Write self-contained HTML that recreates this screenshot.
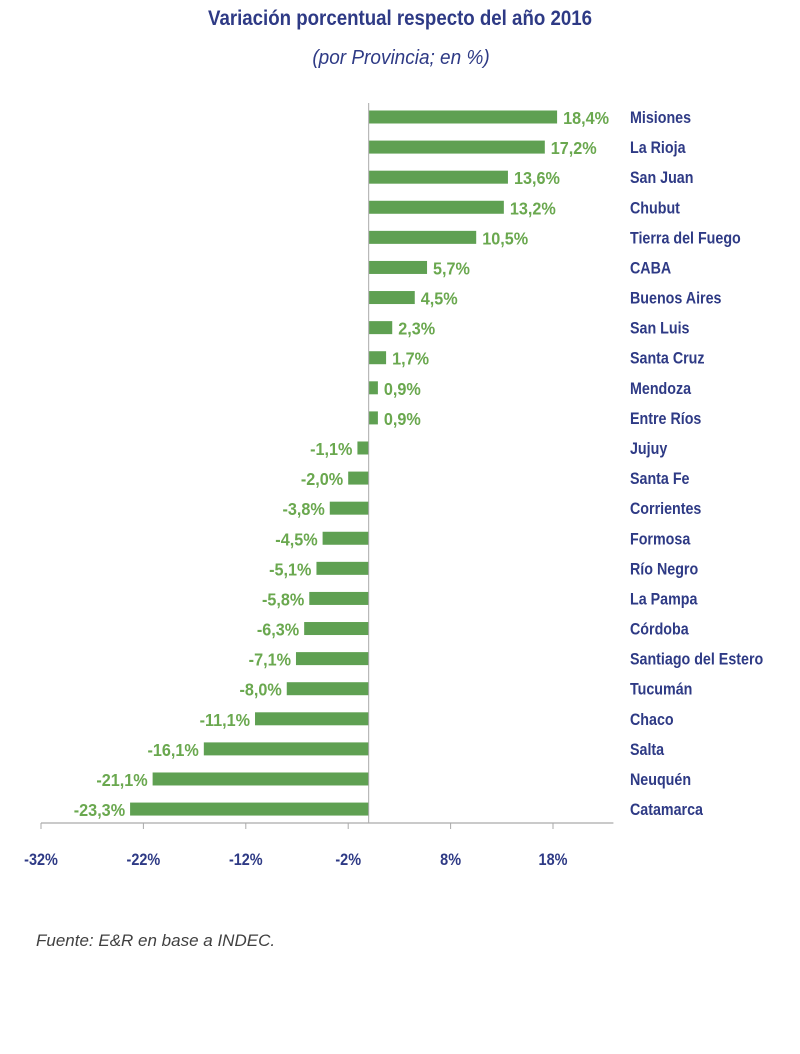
<!DOCTYPE html>
<html><head><meta charset="utf-8"><style>
body{margin:0;background:#fff;width:800px;height:1049px;overflow:hidden;font-family:"Liberation Sans",sans-serif}
</style></head><body>
<svg width="800" height="1049" font-family="Liberation Sans, sans-serif">
<text transform="translate(400,25) scale(0.89,1)" text-anchor="middle" font-size="21" font-weight="bold" fill="#2e3a85">Variación porcentual respecto del  año 2016</text>
<text transform="translate(401,64) scale(0.95,1)" text-anchor="middle" font-size="20" font-style="italic" fill="#2e3a85">(por Provincia; en %)</text>
<g id="plot"></g>
<text x="36" y="946" font-size="17" font-style="italic" fill="#404040">Fuente: E&amp;R en base a INDEC.</text>
</svg>
<script>
const provinces=["Misiones","La Rioja","San Juan","Chubut","Tierra del Fuego","CABA","Buenos Aires","San Luis","Santa Cruz","Mendoza","Entre Ríos","Jujuy","Santa Fe","Corrientes","Formosa","Río Negro","La Pampa","Córdoba","Santiago del Estero","Tucumán","Chaco","Salta","Neuquén","Catamarca"];
const values=[18.4,17.2,13.6,13.2,10.5,5.7,4.5,2.3,1.7,0.9,0.9,-1.1,-2.0,-3.8,-4.5,-5.1,-5.8,-6.3,-7.1,-8.0,-11.1,-16.1,-21.1,-23.3];
const ticks=[-32,-22,-12,-2,8,18];
const xMin=-32,xMax=23.9,pxMin=41,pxPerUnit=10.24;
const x=v=>pxMin+(v-xMin)*pxPerUnit;
const rowY=i=>117+i*30.09;
const NS="http://www.w3.org/2000/svg";
const g=document.getElementById('plot');
function mk(t,a,txt){const e=document.createElementNS(NS,t);for(const k in a)e.setAttribute(k,a[k]);if(txt!=null)e.textContent=txt;g.appendChild(e);return e;}
const axisY=823;
values.forEach((v,i)=>{
 const y=rowY(i),x0=x(0),x1=x(v);
 const r=mk('rect',{x:Math.min(x0,x1),y:y-6.5,width:Math.abs(x1-x0),height:13,fill:'#5fa052'});
 
 
 const lbl=v.toFixed(1).replace('.',',')+'%';
 const tx=v>=0?x1+6:x1-5;
 const t=mk('text',{transform:'translate('+tx+','+(y+7)+') scale(0.9,1)','text-anchor':v>=0?'start':'end','font-size':18,'font-weight':'bold',fill:'#6aa84f'},lbl);
 
 
 const c=mk('text',{transform:'translate(630,'+(y+6)+') scale(0.84,1)','font-size':17,'font-weight':'bold',fill:'#2e3a85'},provinces[i]);
 
 
});
const va=mk('line',{x1:x(0),x2:x(0),y1:103,y2:axisY,stroke:'#aaa','stroke-width':1});


const ha=mk('line',{x1:x(xMin),x2:x(xMax),y1:axisY,y2:axisY,stroke:'#aaa','stroke-width':1.2});


ticks.forEach(tv=>{
 const tk=mk('line',{x1:x(tv),x2:x(tv),y1:axisY,y2:axisY+6,stroke:'#aaa'});
 
 
 const tl=mk('text',{transform:'translate('+x(tv)+',865) scale(0.85,1)','text-anchor':'middle','font-size':17,'font-weight':'bold',fill:'#2e3a85'},tv+'%');
 
 
});
</script>
</body></html>
